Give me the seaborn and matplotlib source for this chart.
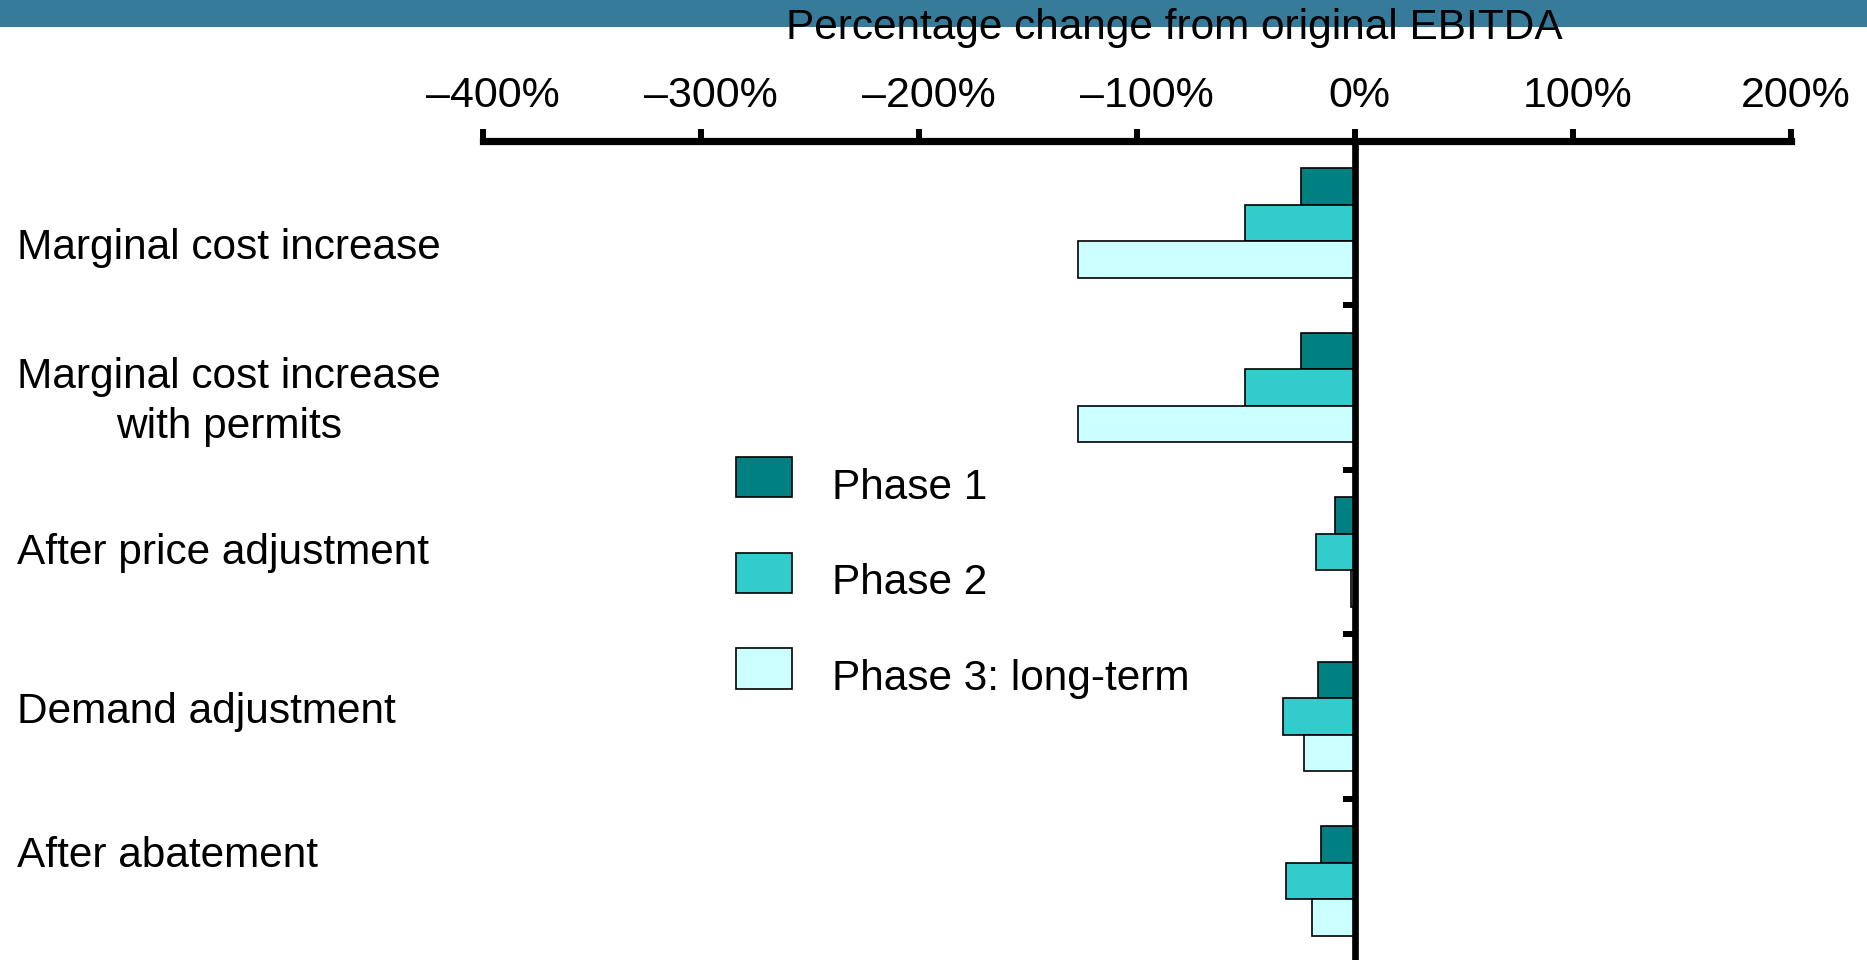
import numpy as np
import pandas as pd
import matplotlib
matplotlib.use("Agg")
import matplotlib.pyplot as plt
import seaborn as sns
from matplotlib.patches import Rectangle, Patch
from matplotlib.legend_handler import HandlerPatch
from matplotlib.transforms import ScaledTranslation
from matplotlib.ticker import FuncFormatter

# ---------------- data ----------------
categories = [
    "Marginal cost increase",
    "Marginal cost increase\nwith permits",
    "After price adjustment",
    "Demand adjustment",
    "After abatement",
]
phases = ["Phase 1", "Phase 2", "Phase 3: long-term"]
phase1 = [-25, -25, -9, -17, -15.5]
phase2 = [-50.5, -50.5, -18, -33, -31.5]
phase3 = [-127, -127, -2, -23.5, -19.5]
x_ticks = [-400, -300, -200, -100, 0, 100, 200]
title = "Percentage change from original EBITDA"
colors = ["#008080", "#33CCCC", "#CCFFFF"]

rows = []
for ph, vals in zip(phases, [phase1, phase2, phase3]):
    for c, v in zip(categories, vals):
        rows.append({"category": c, "phase": ph, "value": v})
df = pd.DataFrame(rows)

# ---------------- style ----------------
sns.set_theme(style="white")
plt.rcParams["font.family"] = ["Liberation Sans", "DejaVu Sans"]
plt.rcParams["text.color"] = "black"
FS = 30.5

fig = plt.figure(figsize=(18.67, 9.6), dpi=100)
ax = fig.add_axes([483 / 1867, -0.0036, 1308 / 1867, 0.8572])

sns.barplot(
    data=df, x="value", y="category", hue="phase",
    order=categories, hue_order=phases, palette=colors,
    orient="h", width=0.667, edgecolor="black", linewidth=1.2,
    saturation=1, errorbar=None, legend=False, ax=ax,
)

ax.set_xlim(-400, 200)
ax.set_ylim(4.5, -0.5)
ax.set_xlabel("")
ax.set_ylabel("")

# x axis on top
ax.xaxis.tick_top()
ax.set_xticks(x_ticks)
ax.xaxis.set_major_formatter(
    FuncFormatter(lambda v, p: f"{int(v)}%".replace("-", "\u2013"))
)
ax.tick_params(axis="x", which="major", direction="out", length=9, width=4.3,
               pad=9.0, labelsize=31, colors="black", top=True, bottom=False,
               labeltop=True, labelbottom=False)

# y axis at zero with ticks at category boundaries
ax.set_yticks([])
ax.set_yticks([0.5, 1.5, 2.5, 3.5], minor=True)
ax.tick_params(axis="y", which="minor", direction="out", length=8.4, width=4.3,
               left=True, labelleft=False, colors="black")

ax.spines["left"].set_position(("data", 0))
ax.spines["left"].set_linewidth(4.8)
ax.spines["left"].set_color("black")
ax.spines["top"].set_linewidth(5.2)
ax.spines["top"].set_color("black")
ax.spines["right"].set_visible(False)
ax.spines["bottom"].set_visible(False)

# slight rightward offset of tick labels, as in the reference
for val, tick in zip(x_ticks, ax.xaxis.get_major_ticks()):
    dx = 6.8 if val < 0 else 3.4
    tick.label2.set_transform(tick.label2.get_transform()
                              + ScaledTranslation(dx / 72, 0, fig.dpi_scale_trans))

# category labels on the far left
label_y = [0.742, 0.581, 0.424, 0.258, 0.108]
for lab, yy in zip(categories, label_y):
    fig.text(0.009, yy, lab, ha="left", va="center", multialignment="center",
             fontsize=FS, color="black", linespacing=1.32)


# legend: squares sit a little higher than the text centre
def raised_square(legend, orig_handle, xdescent, ydescent, width, height, fontsize):
    return Rectangle((-xdescent, -ydescent + 5.0), width, height)


legend_handles = [Patch(facecolor=c, edgecolor="black", linewidth=1.2) for c in colors]
ax.legend(legend_handles, phases, loc="upper left",
          bbox_to_anchor=(736 / 1867, 1 - 464 / 960),
          bbox_transform=fig.transFigure, frameon=False, fontsize=FS,
          labelcolor="black",
          handler_map={Patch: HandlerPatch(patch_func=raised_square)},
          handlelength=1.33, handleheight=1.09, handletextpad=0.93,
          labelspacing=1.23, borderpad=0, borderaxespad=0)

# banner and title
fig.add_artist(Rectangle((0, 1 - 27 / 960), 1, 27 / 960,
                         transform=fig.transFigure, facecolor="#377B9B",
                         edgecolor="none", zorder=0))
fig.text(0.629, 1 - 39 / 960, title, ha="center", va="baseline",
         fontsize=FS, color="black", zorder=5)

fig.savefig("out.png", dpi=100)
